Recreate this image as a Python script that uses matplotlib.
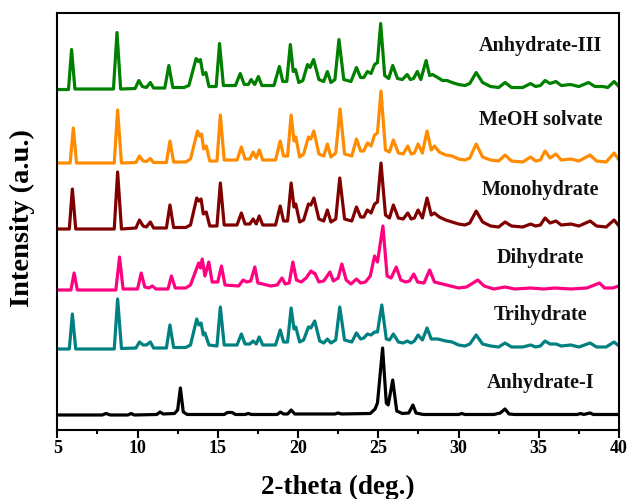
import matplotlib
matplotlib.use("Agg")
import matplotlib.pyplot as plt
from matplotlib.ticker import MultipleLocator

plt.rcParams['font.family'] = ['Liberation Serif', 'DejaVu Serif']
plt.rcParams['font.weight'] = 'bold'

# patterns: 2-theta (deg.) and intensity (a.u.) above each baseline
anh3_x = [5.0, 5.7, 5.89, 6.1, 8.5, 8.72, 8.95, 9.85, 10.08, 10.3, 10.55, 10.8, 11.0, 11.7, 11.95, 12.2,
          12.9, 13.2, 13.65, 13.8, 13.92, 14.08, 14.26, 14.45, 14.9, 15.11, 15.35, 16.1, 16.4, 16.65, 16.9,
          17.08, 17.3, 17.53, 17.75, 18.5, 18.84, 19.05, 19.3, 19.52, 19.7, 19.84, 20.05, 20.3, 20.59, 20.75,
          20.97, 21.3, 21.6, 21.83, 22.05, 22.3, 22.55, 22.85, 23.3, 23.64, 23.9, 24.1, 24.32, 24.55, 24.77,
          24.95, 25.15, 25.4, 25.65, 25.9, 26.2, 26.5, 26.8, 27.0, 27.2, 27.43, 27.65, 27.98, 28.2, 28.38,
          28.7, 29.0, 29.29, 29.6, 30.0, 30.4, 30.7, 31.1, 31.5, 32.0, 32.5, 32.9, 33.3, 34.0, 34.49, 34.8,
          35.1, 35.39, 35.7, 36.07, 36.4, 36.97, 37.5, 38.1, 38.5, 39.0, 39.3, 39.69, 40.0]
anh3_y = [0, 0, 40, 0.5, 0.5, 57, 0.5, 1, 9, 3, 2, 7, 1.5, 1.5, 24, 2,
          2, 4, 31, 28, 30, 15, 17, 3, 3, 46, 4, 4, 16, 5, 5,
          10, 5, 13, 4, 4, 23, 8, 8, 45, 18, 20, 7, 9, 25, 22,
          30, 10, 8, 18, 7, 10, 50, 10, 8, 22, 12, 12, 18, 16, 25,
          27, 66, 14, 11, 24, 11, 10, 15, 10, 11, 18, 10, 29, 14, 15,
          12, 9, 9, 7, 5, 4, 6, 17, 7, 3, 2, 7, 2, 2, 6, 3,
          4, 9, 6, 8, 4, 5, 3, 7, 3, 3, 2, 8, 3]

meoh_x = [5.0, 5.8, 6.0, 6.2, 8.55, 8.76, 9.0, 9.9, 10.12, 10.35, 10.55, 10.8, 11.0, 11.8, 12.02, 12.25,
          13.0, 13.3, 13.74, 13.87, 13.99, 14.12, 14.28, 14.5, 14.95, 15.16, 15.4, 16.2, 16.47, 16.7, 17.0,
          17.2, 17.4, 17.58, 17.8, 18.6, 18.89, 19.1, 19.35, 19.57, 19.75, 19.86, 20.1, 20.35, 20.65, 20.8,
          20.99, 21.3, 21.6, 21.83, 22.05, 22.35, 22.62, 22.9, 23.35, 23.64, 23.9, 24.1, 24.32, 24.55, 24.77,
          24.95, 25.17, 25.45, 25.7, 25.94, 26.25, 26.55, 26.84, 27.05, 27.25, 27.48, 27.75, 28.04, 28.3,
          28.5, 28.8, 29.2, 29.6, 30.0, 30.4, 30.7, 31.1, 31.5, 32.0, 32.5, 32.9, 33.3, 34.0, 34.49, 34.8,
          35.1, 35.39, 35.7, 36.07, 36.4, 37.0, 37.5, 38.2, 38.6, 39.2, 39.69, 40.0]
meoh_y = [0, 0, 35, 0, 0, 53, 0, 0.5, 7, 2, 1.5, 4.5, 0.5, 0.5, 22, 1,
          1, 4, 32, 27, 29, 14, 17, 2, 2, 48, 3, 3, 16, 4, 4,
          11, 5, 13, 3, 3, 22, 7, 7, 48, 22, 26, 6, 9, 26, 24,
          32, 9, 7, 19, 6, 10, 54, 9, 7, 24, 12, 12, 20, 17, 28,
          30, 72, 13, 11, 23, 10, 9, 17, 9, 10, 19, 10, 32, 13,
          17, 11, 8, 7, 4, 3, 5, 19, 6, 3, 2, 8, 2, 1, 6, 2,
          3, 12, 5, 9, 3, 4, 2, 8, 2, 1, 10, 3]

mono_x = [5.0, 5.75, 5.94, 6.15, 8.55, 8.76, 9.0, 9.9, 10.12, 10.35, 10.55, 10.8, 11.0, 11.8, 12.02, 12.25,
          13.0, 13.3, 13.69, 13.82, 13.96, 14.1, 14.28, 14.5, 14.95, 15.16, 15.4, 16.2, 16.47, 16.7, 17.0,
          17.2, 17.4, 17.58, 17.8, 18.6, 18.89, 19.1, 19.35, 19.57, 19.75, 19.86, 20.1, 20.35, 20.65, 20.8,
          20.99, 21.3, 21.6, 21.83, 22.05, 22.35, 22.6, 22.9, 23.35, 23.64, 23.9, 24.1, 24.32, 24.55, 24.77,
          24.95, 25.17, 25.45, 25.7, 25.94, 26.25, 26.55, 26.84, 27.05, 27.25, 27.48, 27.75, 28.04, 28.3,
          28.5, 28.8, 29.2, 29.6, 30.0, 30.4, 30.7, 31.1, 31.5, 32.0, 32.5, 32.9, 33.3, 34.0, 34.49, 34.8,
          35.1, 35.39, 35.7, 36.07, 36.4, 37.0, 37.5, 38.2, 38.6, 39.2, 39.69, 40.0]
mono_y = [0, 0, 40, 0, 0, 57, 0, 1, 9, 3, 2, 7, 1, 1, 24, 1.5,
          1.5, 4, 31, 28, 30, 15, 17, 3, 3, 46, 4, 4, 16, 5, 5,
          10, 5, 13, 4, 4, 23, 8, 8, 46, 22, 25, 7, 9, 25, 24,
          31, 10, 8, 19, 7, 10, 51, 10, 8, 22, 12, 12, 19, 16, 25,
          27, 66, 14, 11, 24, 11, 10, 16, 10, 11, 19, 11, 31, 14,
          16, 12, 9, 7, 5, 4, 6, 18, 7, 3, 2, 7, 3, 2, 5, 3,
          4, 11, 6, 8, 4, 5, 3, 8, 3, 2, 9, 3]

dihy_x = [5.0, 5.85, 6.05, 6.25, 8.65, 8.88, 9.1, 10.0, 10.23, 10.45, 10.7, 10.93, 11.15, 11.9, 12.11, 12.35,
          13.0, 13.3, 13.81, 13.92, 14.03, 14.2, 14.44, 14.65, 15.0, 15.23, 15.45, 16.3, 16.58, 16.8, 17.05,
          17.31, 17.5, 17.8, 18.3, 18.7, 19.0, 19.2, 19.45, 19.68, 19.9, 20.2, 20.5, 20.81, 20.95, 21.04,
          21.3, 21.6, 21.99, 22.2, 22.5, 22.73, 23.0, 23.3, 23.64, 23.9, 24.2, 24.5, 24.77, 24.95, 25.29,
          25.55, 25.8, 26.12, 26.4, 26.7, 26.95, 27.21, 27.45, 27.85, 28.2, 28.5, 29.0, 29.5, 30.0, 30.5,
          31.2, 31.6, 32.2, 32.9, 33.5, 34.5, 35.3, 36.0, 37.0, 38.0, 38.78, 39.1, 39.6, 40.0]
dihy_y = [0, 0, 17, 0, 0, 33, 1, 1, 17, 3, 2, 4, 1, 1, 14, 2,
          2, 5, 27, 22, 31, 14, 28, 8, 8, 24, 5, 4, 10, 8, 9,
          23, 7, 6, 4, 5, 12, 6, 7, 28, 10, 8, 12, 19, 17, 17,
          8, 9, 18, 9, 12, 26, 10, 6, 11, 7, 8, 14, 34, 28, 64,
          14, 12, 23, 10, 8, 9, 16, 8, 7, 20, 8, 6, 4, 2, 3,
          10, 4, 1, 3, 1, 2, 1, 2, 1, 2, 7, 2, 2, 4]

trih_x = [5.0, 5.75, 5.94, 6.15, 8.55, 8.76, 9.0, 9.9, 10.12, 10.35, 10.55, 10.8, 11.0, 11.8, 12.02, 12.25,
          13.0, 13.3, 13.69, 13.82, 13.96, 14.1, 14.2, 14.45, 14.95, 15.16, 15.4, 16.2, 16.47, 16.7, 17.0,
          17.2, 17.4, 17.58, 17.8, 18.6, 18.89, 19.1, 19.35, 19.57, 19.75, 19.86, 20.1, 20.35, 20.65, 20.8,
          21.04, 21.35, 21.6, 21.83, 22.05, 22.35, 22.6, 22.9, 23.35, 23.64, 23.9, 24.1, 24.32, 24.55, 24.77,
          24.95, 25.22, 25.5, 25.7, 25.94, 26.25, 26.55, 26.8, 27.05, 27.25, 27.48, 27.75, 28.04, 28.3,
          28.7, 29.2, 29.6, 30.0, 30.4, 30.7, 31.1, 31.5, 32.0, 32.5, 32.9, 33.3, 34.0, 34.49, 34.8,
          35.1, 35.39, 35.7, 36.07, 36.4, 37.0, 37.5, 38.2, 38.6, 39.2, 39.69, 40.0]
trih_y = [0, 0, 35, 0, 0, 50, 0.5, 1, 7, 4, 4, 7, 1, 1, 24, 1.5,
          1.5, 4, 30, 24, 26, 14, 16, 4, 3, 42, 4, 4, 15, 5, 5,
          8, 5, 12, 4, 4, 19, 7, 7, 41, 20, 22, 7, 9, 22, 21,
          28, 8, 6, 10, 6, 9, 42, 9, 7, 16, 10, 11, 15, 14, 17,
          17, 44, 10, 9, 15, 7, 6, 8, 6, 8, 14, 9, 21, 10,
          10, 8, 7, 4, 3, 5, 14, 5, 3, 2, 6, 2, 2, 4, 2,
          3, 8, 5, 5, 3, 4, 2, 6, 2, 2, 7, 3]

anh1_x = [5.0, 7.8, 8.04, 8.3, 9.4, 9.6, 9.8, 11.2, 11.4, 11.6, 12.3, 12.5, 12.67, 12.85, 13.1, 15.4, 15.6,
          15.9, 16.1, 16.7, 16.9, 17.1, 18.7, 18.9, 19.1, 19.35, 19.57, 19.8, 22.3, 22.5, 22.7, 24.5, 24.8,
          24.95, 25.27, 25.5, 25.62, 25.9, 26.15, 26.5, 26.9, 27.16, 27.35, 27.8, 30.0, 30.2, 30.4, 32.2,
          32.6, 32.9, 33.15, 33.5, 37.4, 37.6, 37.8, 38.2, 38.4, 40.0]
anh1_y = [0, 0, 1.5, 0, 0, 1.5, 0, 0.5, 3, 1, 1.5, 5, 27, 3, 0.5, 0.5, 2.5,
          2.5, 0.5, 0.5, 1.5, 0.5, 0.5, 3, 1, 1, 5, 1, 1, 2, 1, 1.5, 6,
          12, 67, 12, 10, 35, 4, 1.5, 2, 10, 2, 0.5, 0.5, 1.5, 0.5, 0.5,
          2, 6, 1, 0.5, 0.5, 1.5, 0.5, 2, 0.5, 0.5]

names = ["Anhydrate-III", "MeOH solvate", "Monohydrate", "Dihydrate", "Trihydrate", "Anhydrate-I"]
xs = [anh3_x, meoh_x, mono_x, dihy_x, trih_x, anh1_x]
ys = [anh3_y, meoh_y, mono_y, dihy_y, trih_y, anh1_y]

# layout / style
colors = ["#008000", "#ff8c00", "#800000", "#ff0080", "#008080", "#000000"]
offsets = [340.5, 267, 201, 140, 81, 15]
label_y = [384.4, 310, 240, 172, 115, 47]

fig = plt.figure(figsize=(6.28, 4.99), dpi=100)
ax = fig.add_axes([0.0912, 0.1383, 0.8945, 0.8362])

for x, y, off, c in zip(xs, ys, offsets, colors):
    ax.plot(x, [v + off for v in y], color=c, lw=2.3, solid_joinstyle='round', solid_capstyle='round')

for name, ly in zip(names, label_y):
    ax.text(35.1, ly, name, ha='center', va='center', fontsize=14.5, fontweight='bold', color='#111111')

ax.set_xlim(5, 40)
ax.set_ylim(0, 417.3)
ax.xaxis.set_major_locator(MultipleLocator(5))
ax.xaxis.set_minor_locator(MultipleLocator(2.5))
ax.tick_params(axis='x', which='major', direction='out', length=5.5, width=1.5, pad=2, labelsize=13)
ax.tick_params(axis='x', which='minor', direction='out', length=3, width=1.5)
ax.set_yticks([])
for lab in ax.get_xticklabels():
    lab.set_fontweight('bold')
for s in ax.spines.values():
    s.set_linewidth(1.5)

fig.text(0.538, 1 - 487 / 499, "2-theta (deg.)", ha='center', va='center', fontsize=19.5, fontweight='bold')
fig.text(22 / 628, 1 - 218 / 499, "Intensity (a.u.)", ha='center', va='center', rotation=90,
         fontsize=20.5, fontweight='bold')

fig.savefig("out.png", dpi=100)
